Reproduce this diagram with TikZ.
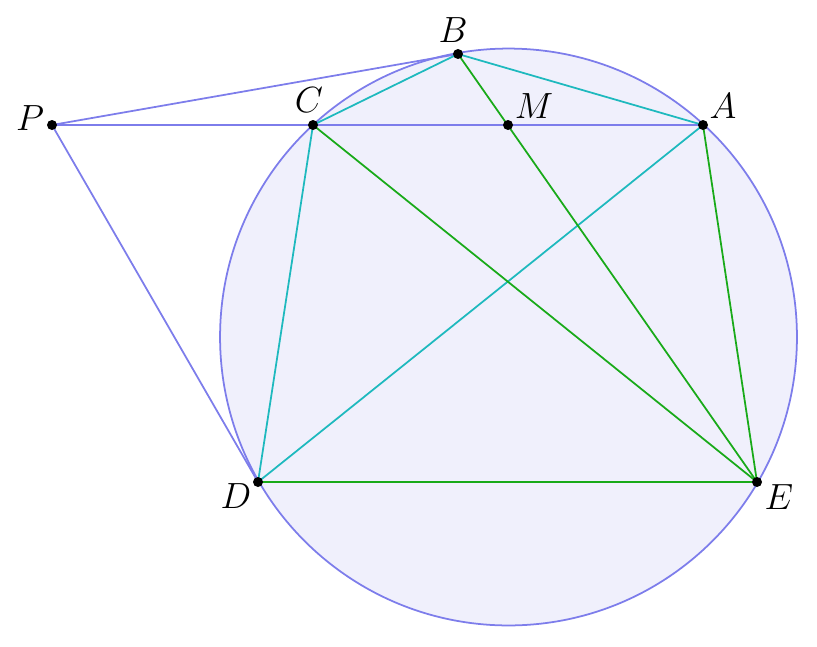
\documentclass[tikz,border=0pt]{standalone}
\usepackage{tikz}
\usetikzlibrary{calc}
\definecolor{circblue}{RGB}{125,125,235}
\definecolor{circfill}{RGB}{240,240,252}
\definecolor{chordcyan}{RGB}{30,185,190}
\definecolor{chordgreen}{RGB}{25,170,25}

\begin{document}
\begin{tikzpicture}[
    x=0.02cm,
    y=-0.02cm,
    font=\fontsize{21}{24}\selectfont,
    dot/.style={
		circle,
		fill=black,
		inner sep=0pt,
		minimum size=0.2cm
	},
	outer/.style={
		draw=circblue,
		line width=1pt
	},
	cyanline/.style={
		draw=chordcyan,
		line width=1pt
	},
	greenline/.style={
		draw=chordgreen,
		line width=1pt
	},
	lbl/.style={
		inner sep=0pt
	}
  ]
\useasboundingbox (0,0) rectangle (817,646);

% points
\coordinate (O) at (508.5,337);
\coordinate (P) at (52,125);
\coordinate (B) at (458,54);
\coordinate (C) at (313,125);
\coordinate (M) at (508,125);
\coordinate (A) at (703,125);
\coordinate (D) at (258,482);
\coordinate (E) at (757,482);

% // the circle
\draw [outer, fill=circfill] (O) circle [radius=5.77cm];

% // tangents and secant
\draw [outer] (P) -- (B);
\draw [outer] (P) -- (A);
\draw [outer] (P) -- (D);

% // cyan chords
\draw [cyanline] (B) -- (C);
\draw [cyanline] (B) -- (A);
\draw [cyanline] (C) -- (D);
\draw [cyanline] (D) -- (A);

% // green chords
\draw [greenline] (B) -- (E);
\draw [greenline] (C) -- (E);
\draw [greenline] (A) -- (E);
\draw [greenline] (D) -- (E);

% // dots
\foreach \p in {P,B,C,M,A,D,E}
  \node [dot] (dot\p) at (\p) {};

% // labels
\node [lbl] (labP) at ($(P)+(-22,-7)$) {$P$};
\node [lbl] (labB) at ($(B)+(-5,-24)$) {$B$};
\node [lbl] (labC) at ($(C)+(-4,-25)$) {$C$};
\node [lbl] (labM) at ($(M)+(26,-19)$) {$M$};
\node [lbl] (labA) at ($(A)+(20,-19)$) {$A$};
\node [lbl] (labD) at ($(D)+(-22,14)$) {$D$};
\node [lbl] (labE) at ($(E)+(22,15)$) {$E$};

\end{tikzpicture}
\end{document}
